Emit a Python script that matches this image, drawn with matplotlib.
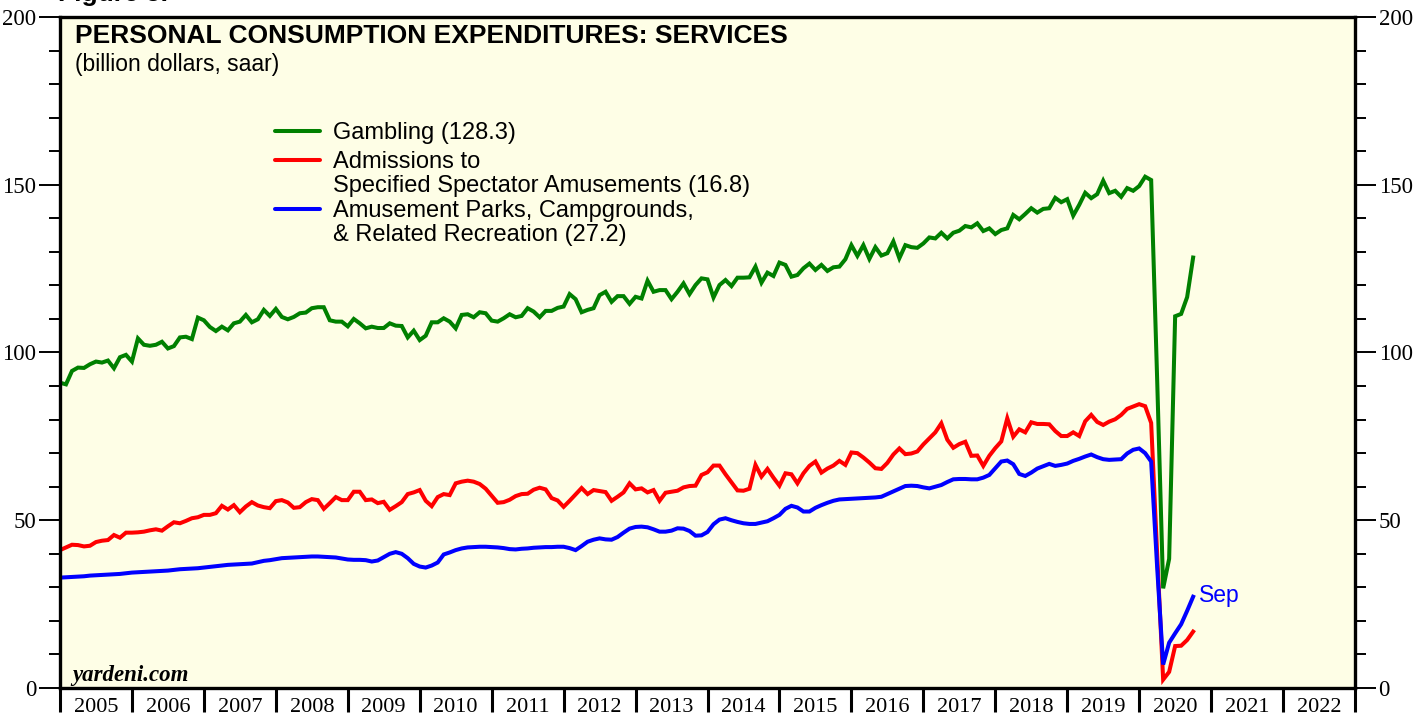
import numpy as np
import matplotlib.pyplot as plt
from matplotlib.ticker import MultipleLocator, FixedLocator, NullFormatter

# monthly values, first point at 2005.0, last point Sep 2020
gambling = [
    91.0, 90.5, 94.5, 95.5, 95.4, 96.5, 97.3, 97.0, 97.6, 95.3, 98.6, 99.3,
    97.3, 104.2, 102.3, 102.0, 102.3, 103.2, 101.2, 101.9, 104.5, 104.7, 104.0, 110.4,
    109.6, 107.6, 106.4, 107.7, 106.6, 108.7, 109.2, 111.2, 109.0, 109.9, 112.7, 110.9,
    113.0, 110.6, 109.9, 110.6, 111.7, 111.9, 113.2, 113.5, 113.5, 109.6, 109.2, 109.2,
    107.8, 110.0, 108.7, 107.2, 107.7, 107.3, 107.3, 108.7, 108.0, 107.9, 104.5, 106.5,
    103.7, 105.0, 109.0, 109.0, 110.2, 109.2, 107.2, 111.2, 111.4, 110.5, 112.0, 111.7,
    109.5, 109.2, 110.2, 111.4, 110.5, 110.9, 113.2, 112.2, 110.5, 112.4, 112.4, 113.3,
    113.7, 117.4, 115.9, 112.0, 112.7, 113.2, 117.1, 118.1, 115.1, 116.8, 116.8, 114.5,
    116.6, 116.1, 121.4, 118.1, 118.6, 118.6, 115.9, 118.1, 120.6, 117.4, 120.1, 122.1,
    121.8, 116.4, 120.1, 121.6, 119.8, 122.3, 122.3, 122.4, 125.6, 120.8, 123.8, 122.8,
    126.8, 126.1, 122.6, 123.1, 125.1, 126.5, 124.6, 126.1, 124.3, 125.4, 125.6, 127.8,
    132.0, 128.8, 132.0, 127.9, 131.4, 128.9, 129.6, 133.1, 128.1, 132.0, 131.4, 131.2,
    132.5, 134.3, 134.0, 135.7, 134.0, 135.7, 136.3, 137.7, 137.3, 138.5, 136.2, 137.0,
    135.3, 136.5, 137.0, 141.0, 139.7, 141.3, 143.0, 141.7, 142.8, 143.0, 146.1, 144.8,
    145.7, 140.8, 144.0, 147.6, 146.0, 147.2, 151.2, 147.5, 148.2, 146.4, 149.0, 148.2,
    149.6, 152.4, 151.4, 92.0, 29.7, 38.5, 110.8, 111.5, 116.5, 128.3,
]
admissions = [
    41.1, 41.9, 42.7, 42.6, 42.2, 42.4, 43.5, 43.9, 44.1, 45.6, 44.8, 46.3,
    46.3, 46.4, 46.6, 47.0, 47.3, 46.9, 48.2, 49.4, 49.1, 49.8, 50.6, 50.9,
    51.6, 51.6, 52.1, 54.3, 53.2, 54.5, 52.4, 54.1, 55.4, 54.4, 53.9, 53.6,
    55.7, 56.0, 55.3, 53.7, 53.9, 55.4, 56.3, 56.0, 53.4, 55.1, 56.9, 56.0,
    56.0, 58.5, 58.5, 56.0, 56.2, 55.1, 55.5, 53.1, 54.2, 55.4, 57.8, 58.3,
    59.0, 55.8, 54.2, 56.9, 57.8, 57.5, 61.0, 61.5, 61.8, 61.5, 60.8, 59.4,
    57.3, 55.2, 55.4, 56.1, 57.2, 57.8, 57.9, 59.1, 59.7, 59.2, 56.6, 55.9,
    54.0, 55.8, 57.7, 59.6, 57.8, 59.0, 58.7, 58.4, 55.8, 57.0, 58.3, 61.0,
    59.2, 59.5, 58.3, 59.0, 55.8, 58.2, 58.5, 58.8, 59.8, 60.2, 60.3, 63.5,
    64.3, 66.3, 66.3, 63.7, 61.3, 58.9, 58.8, 59.4, 66.5, 63.0, 65.3, 62.7,
    60.3, 64.0, 63.7, 61.0, 64.0, 66.2, 67.5, 64.2, 65.4, 66.3, 67.7, 66.5,
    70.2, 70.0, 68.7, 67.2, 65.5, 65.3, 67.1, 69.6, 71.4, 69.7, 69.9, 70.5,
    72.6, 74.4, 76.2, 78.9, 74.0, 71.6, 72.7, 73.4, 69.2, 69.3, 66.2, 69.2,
    71.5, 73.5, 80.4, 74.9, 77.1, 76.2, 79.2, 78.7, 78.7, 78.6, 76.6, 75.1,
    75.1, 76.2, 75.1, 79.5, 81.4, 79.3, 78.4, 79.4, 80.1, 81.4, 83.2, 83.9,
    84.6, 84.0, 79.0, 40.0, 2.5, 4.8, 12.5, 12.6, 14.3, 16.8,
]
parks = [
    32.9, 33.0, 33.1, 33.2, 33.3, 33.5, 33.6, 33.7, 33.8, 33.9, 34.0, 34.2,
    34.4, 34.5, 34.6, 34.7, 34.8, 34.9, 35.0, 35.2, 35.4, 35.5, 35.6, 35.7,
    35.9, 36.1, 36.3, 36.5, 36.7, 36.8, 36.9, 37.0, 37.1, 37.5, 37.9, 38.1,
    38.4, 38.7, 38.8, 38.9, 39.0, 39.1, 39.2, 39.2, 39.1, 39.0, 38.9, 38.6,
    38.3, 38.2, 38.2, 38.1, 37.7, 38.0, 39.0, 40.0, 40.5, 40.0, 38.7, 37.0,
    36.2, 35.9, 36.5, 37.4, 39.8, 40.4, 41.1, 41.6, 41.9, 42.0, 42.1, 42.1,
    42.0, 41.9, 41.7, 41.4, 41.3, 41.5, 41.6, 41.8, 41.9, 42.0, 42.0, 42.1,
    42.1, 41.7, 41.1, 42.3, 43.6, 44.2, 44.6, 44.3, 44.2, 45.0, 46.3, 47.5,
    48.0, 48.1, 47.9, 47.3, 46.6, 46.6, 46.9, 47.6, 47.5, 46.8, 45.4, 45.5,
    46.5, 48.8, 50.2, 50.6, 50.0, 49.5, 49.1, 48.9, 48.9, 49.3, 49.7, 50.6,
    51.6, 53.4, 54.3, 53.8, 52.6, 52.6, 53.7, 54.5, 55.2, 55.8, 56.2, 56.3,
    56.4, 56.5, 56.6, 56.7, 56.8, 57.0, 57.8, 58.6, 59.4, 60.2, 60.3, 60.2,
    59.8, 59.5, 60.0, 60.5, 61.4, 62.2, 62.3, 62.3, 62.2, 62.2, 62.7, 63.5,
    65.5, 67.5, 67.8, 66.7, 63.8, 63.2, 64.2, 65.4, 66.1, 66.8, 66.2, 66.5,
    66.9, 67.7, 68.3, 69.0, 69.6, 68.8, 68.2, 68.0, 68.1, 68.2, 69.9, 71.0,
    71.4, 70.0, 67.5, 36.0, 7.0, 13.5, 16.3, 19.0, 23.0, 27.2,
]
years = list(range(2005, 2023))
labels = ['Gambling (128.3)',
          'Admissions to\nSpecified Spectator Amusements (16.8)',
          'Amusement Parks, Campgrounds,\n& Related Recreation (27.2)']
colors = ['#008000', '#ff0000', '#0000ff']

t = 2005 + np.arange(len(gambling)) / 12.0

serif = 'Liberation Serif'
sans = 'Liberation Sans'

fig = plt.figure(figsize=(14.26, 7.17), dpi=100)
ax = fig.add_axes([60 / 1426, 1 - 688 / 717, 1295 / 1426, 671 / 717])
ax.set_facecolor('#fefee6')

for ser, c in zip((gambling, admissions, parks), colors):
    ax.plot(t, ser, color=c, lw=2.9, solid_joinstyle='miter')

ax.set_xlim(2005, 2023)
ax.set_ylim(0, 200)

# y axis on both sides
ax.yaxis.set_major_locator(MultipleLocator(50))
ax.yaxis.set_minor_locator(MultipleLocator(10))
ax.tick_params(axis='y', which='both', left=True, right=True,
               labelleft=True, labelright=True, direction='out')
ax.tick_params(axis='y', which='major', length=15, width=1.4,
               labelsize=16.5, pad=2)
ax.tick_params(axis='y', which='minor', length=8, width=1.4)

# x axis: ticks at year boundaries, labels at mid-year
ax.xaxis.set_major_locator(FixedLocator(years + [2023]))
ax.xaxis.set_major_formatter(NullFormatter())
ax.xaxis.set_minor_locator(FixedLocator([y + 0.5 for y in years]))
ax.set_xticklabels([str(y) for y in years], minor=True)
ax.tick_params(axis='x', which='major', length=17, width=2.2, direction='out')
ax.tick_params(axis='x', which='minor', length=0, labelsize=16, pad=7)

for lab in ax.get_xticklabels(minor=True):
    lab.set_fontfamily(serif)
for tk in ax.yaxis.get_major_ticks():
    tk.label1.set_fontfamily(serif)
    tk.label2.set_fontfamily(serif)

for sp in ax.spines.values():
    sp.set_linewidth(2.4)
    sp.set_color('black')

# titles
ax.text(15 / 1295, 1 - 19 / 671, 'PERSONAL CONSUMPTION EXPENDITURES: SERVICES',
        transform=ax.transAxes, fontsize=19, fontweight='bold',
        family=sans, va='center', ha='left')
ax.text(15 / 1295, 1 - 48 / 671, '(billion dollars, saar)',
        transform=ax.transAxes, fontsize=16.5, family=sans,
        va='center', ha='left')
fig.text(58 / 1426, 1 - 1 / 717, 'Figure 5.', fontsize=19, fontweight='bold',
         family=sans, va='baseline', ha='left')

# hand-made legend
leg_rows = [131, 160, 209]
for lab, c, yy in zip(labels, colors, leg_rows):
    yf = 1 - (yy - 17) / 671
    ax.plot([215 / 1295, 260 / 1295], [yf, yf], transform=ax.transAxes,
            color=c, lw=2.9, solid_capstyle='round')
    ax.text(273 / 1295, yf + 9 / 671, lab, transform=ax.transAxes,
            fontsize=17, family=sans, va='top', ha='left', linespacing=1.13)

ax.text(t[-1] + 0.08, parks[-1] + 0.3, 'Sep', color=colors[2], fontsize=16.5,
        family=sans, va='center', ha='left')

ax.text(12 / 1295, 13 / 671, 'yardeni.com', transform=ax.transAxes,
        fontsize=16.5, fontweight='bold', style='italic', family=serif,
        va='center', ha='left')

fig.savefig('out.png', dpi=100)
